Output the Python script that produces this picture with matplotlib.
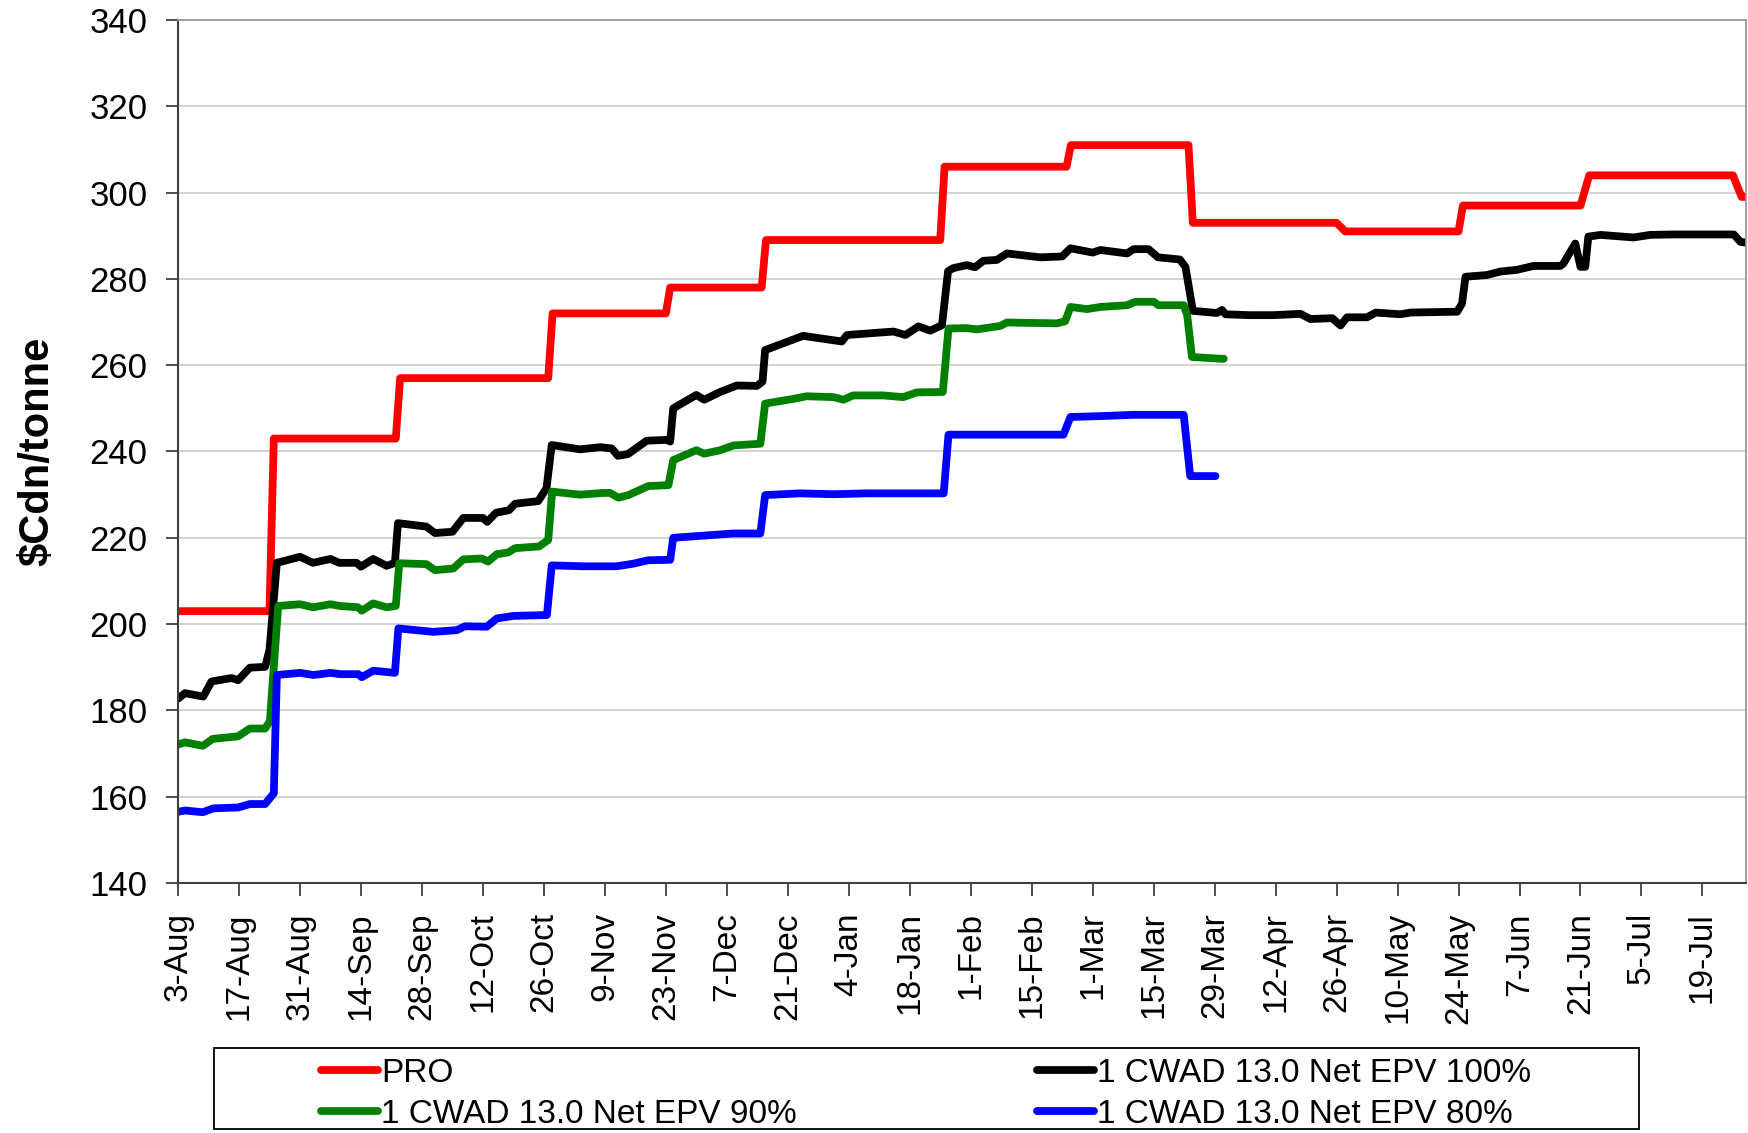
import matplotlib
matplotlib.use("Agg")
import matplotlib.pyplot as plt
import matplotlib.dates as mdates
from matplotlib.patches import Rectangle
import datetime as dt

plt.rcParams['font.family'] = ['Liberation Sans', 'DejaVu Sans']

# ---------------- data (days after 3-Aug-2009, $Cdn/tonne) ----------------
start_date = dt.date(2009, 8, 3)

pro_days = [0, 21, 22, 50, 51, 85, 86, 112, 113, 134, 135, 175, 176, 204, 205,
            232, 233, 266, 268, 294, 295, 322, 324, 357, 359, 360]
pro_vals = [203, 203, 243, 243, 257, 257, 272, 272, 278, 278, 289, 289, 306, 306, 311,
            311, 293, 293, 291, 291, 297, 297, 304, 304, 299, 299]

epv100_days = [0, 1.6, 5.8, 7.7, 12.3, 13.8, 16.5, 20, 21, 22.7, 28, 31, 35, 37, 41, 42,
               44.8, 47.9, 49.8, 50.5, 57, 59, 63, 65.5, 70, 71, 73, 76, 77.4, 82.7, 84.6,
               85.8, 92.3, 97, 99.6, 101, 103.3, 107.6, 112.2, 113, 113.7, 119, 120.8,
               124.5, 128.3, 132.9, 134.2, 134.8, 140.6, 143.5, 149, 152.4, 153.6, 164.3,
               167, 170, 172.7, 175.4, 176.8, 178, 181.1, 183, 184.9, 188, 190.3, 198, 203,
               204.9, 210, 211.8, 217.9, 219.4, 222.8, 225, 230, 231.3, 233, 238.5, 239.7,
               240.5, 246, 251.5, 257.7, 260, 265, 266.9, 268.4, 273, 275, 280.6, 283,
               293.7, 294.8, 295.6, 300.5, 303.6, 307.4, 311.2, 317.4, 318.1, 320.8, 322,
               323.1, 323.8, 326.6, 334.2, 338, 343.4, 357.2, 358.7, 360]
epv100_vals = [182.7, 184, 183.2, 186.7, 187.5, 187, 189.9, 190.1, 194, 214.2, 215.6, 214.2,
               215.1, 214.2, 214.2, 213.3, 215.1, 213.5, 214.2, 223.4, 222.6, 221.1, 221.4,
               224.6, 224.6, 223.7, 225.8, 226.4, 227.9, 228.5, 231.5, 241.5, 240.5, 241,
               240.7, 239, 239.4, 242.5, 242.7, 242.3, 250, 253.1, 252, 253.8, 255.3, 255.2,
               256.2, 263.5, 265.7, 266.8, 266, 265.5, 267, 267.8, 267, 269, 268, 269.3,
               281.8, 282.5, 283.2, 282.7, 284.2, 284.4, 285.9, 285, 285.2, 287.1, 286.1,
               286.7, 285.9, 286.9, 286.9, 285, 284.5, 282.8, 272.6, 272.1, 272.8, 271.8,
               271.6, 271.6, 271.9, 270.7, 270.9, 269.2, 271.1, 271.1, 272.2, 271.8, 272.2,
               272.4, 274.3, 280.5, 280.9, 281.7, 282.1, 283, 283, 283.6, 288.2, 282.8,
               282.8, 289.8, 290.2, 289.6, 290.2, 290.3, 290.3, 288.6, 288.4]

epv90_days = [0, 1.6, 5.7, 8, 13.8, 16.5, 20, 21.1, 23, 28, 31, 35, 37.2, 41.3, 42.2, 44.8,
              47.9, 50, 50.8, 57, 59, 63.2, 65.5, 69.7, 71.2, 73.2, 75.8, 77.4, 82.9, 85,
              85.9, 92.3, 97.6, 99.2, 101.1, 103.4, 108, 112.6, 113.7, 119, 120.8, 124.5,
              127.5, 133.7, 134.8, 141.3, 144.3, 150.5, 152.8, 155, 161.9, 166.5, 169.6,
              175.6, 176.9, 181.1, 183.4, 188.8, 190.3, 195.7, 201.8, 203.7, 204.9, 208.7,
              211.8, 217.9, 219.8, 224, 225.1, 230.9, 231.7, 232.8, 239.3, 240.1]
epv90_vals = [172.1, 172.6, 171.8, 173.4, 174, 175.8, 175.8, 177.5, 204.2, 204.6, 203.9,
              204.6, 204.2, 203.9, 203.1, 204.8, 203.9, 204.2, 214.1, 213.9, 212.5, 212.9,
              215, 215.2, 214.5, 216.2, 216.6, 217.6, 218, 219.5, 230.7, 230, 230.4, 230.4,
              229.3, 229.9, 232, 232.2, 238, 240.3, 239.5, 240.3, 241.4, 241.8, 251.1,
              252.2, 252.8, 252.6, 252, 253, 253, 252.6, 253.7, 253.8, 268.5, 268.6, 268.3,
              269.1, 269.9, 269.8, 269.7, 270.2, 273.5, 273, 273.5, 273.9, 274.7, 274.7,
              273.9, 273.9, 271.6, 261.9, 261.5, 261.5]

epv80_days = [0, 1.6, 5.7, 8.1, 13.8, 16.5, 20, 22, 22.7, 28, 31.1, 35, 37.2, 41.4, 42.2,
              44.8, 49.8, 50.6, 58.6, 64, 65.9, 70.9, 73.2, 77, 84.7, 85.8, 93.1, 100.7,
              104.5, 108, 113, 113.7, 120.6, 127.5, 133.7, 134.8, 142.9, 150.5, 158.2,
              175.8, 176.9, 203.3, 204.9, 211.8, 219.4, 230.9, 232.4, 238.2]
epv80_vals = [156.5, 156.8, 156.4, 157.3, 157.5, 158.3, 158.3, 160.8, 188.2, 188.7, 188.2,
              188.7, 188.4, 188.4, 187.7, 189.2, 188.7, 199, 198.2, 198.6, 199.5, 199.4,
              201.3, 201.9, 202.1, 213.6, 213.4, 213.4, 214, 214.8, 214.9, 220, 220.5, 221,
              221, 229.9, 230.3, 230.1, 230.3, 230.3, 243.9, 243.9, 248, 248.2, 248.5,
              248.5, 234.3, 234.3]

tick_labels = ['3-Aug', '17-Aug', '31-Aug', '14-Sep', '28-Sep', '12-Oct', '26-Oct',
               '9-Nov', '23-Nov', '7-Dec', '21-Dec', '4-Jan', '18-Jan', '1-Feb',
               '15-Feb', '1-Mar', '15-Mar', '29-Mar', '12-Apr', '26-Apr', '10-May',
               '24-May', '7-Jun', '21-Jun', '5-Jul', '19-Jul']

series_names = ['PRO', '1 CWAD 13.0 Net EPV 100%', '1 CWAD 13.0 Net EPV 90%',
                '1 CWAD 13.0 Net EPV 80%']
series_colors = ['#FF0000', '#000000', '#008000', '#0000FF']

# ---------------- plotting ----------------
base = mdates.date2num(start_date)


def to_x(days):
    return [base + d for d in days]


fig = plt.figure(figsize=(17.48, 11.33), dpi=100)
ax = fig.add_axes([178 / 1748, 1 - 883 / 1133, (1746 - 178) / 1748, (883 - 20) / 1133])

all_days = [pro_days, epv100_days, epv90_days, epv80_days]
all_vals = [pro_vals, epv100_vals, epv90_vals, epv80_vals]
handles = []
for days, vals, name, col in zip(all_days, all_vals, series_names, series_colors):
    h, = ax.plot(to_x(days), vals, color=col, lw=5.6, label=name,
                 solid_joinstyle='round', solid_capstyle='round')
    handles.append(h)

ax.set_xlim(base, base + 360)
ax.set_ylim(140, 340)
ax.set_yticks(range(140, 341, 20))
ax.yaxis.grid(True, color='#D0D0D0', lw=1.3)
ax.set_axisbelow(True)

xt = [base + 14 * i for i in range(len(tick_labels))]
ax.set_xticks(xt)
ax.set_xticklabels(tick_labels, rotation=90, va='top', ha='center')

ax.tick_params(axis='y', labelsize=25, length=9, width=1.3, direction='out', pad=13,
               color='#404040')
ax.tick_params(axis='x', labelsize=24, length=9, width=1.3, direction='out', pad=12,
               color='#404040')

for s in ['left', 'bottom']:
    ax.spines[s].set_color('#404040')
    ax.spines[s].set_linewidth(1.5)
for s in ['top', 'right']:
    ax.spines[s].set_color('#999999')
    ax.spines[s].set_linewidth(1.3)

ax.set_ylabel('$Cdn/tonne', fontsize=30, fontweight='bold')
ax.yaxis.set_label_coords(-0.077, 0.5)

# legend: two columns, with an outer frame
leg_kw = dict(frameon=False, fontsize=24, handlelength=1.7, handletextpad=0.1,
              labelspacing=0.3, borderpad=0, borderaxespad=0, loc='center left')
yc = 1 - 1094 / 1133
leg1 = fig.legend([handles[0], handles[2]], [series_names[0], series_names[2]],
                  bbox_to_anchor=(321 / 1748, yc), **leg_kw)
leg2 = fig.legend([handles[1], handles[3]], [series_names[1], series_names[3]],
                  bbox_to_anchor=(1037 / 1748, yc), **leg_kw)
fig.add_artist(Rectangle((214 / 1748, 1 - 1129 / 1133), (1639 - 214) / 1748,
                         (1129 - 1048) / 1133, transform=fig.transFigure,
                         fill=False, edgecolor='#000000', lw=1.3))

fig.savefig('out.png', dpi=100)
